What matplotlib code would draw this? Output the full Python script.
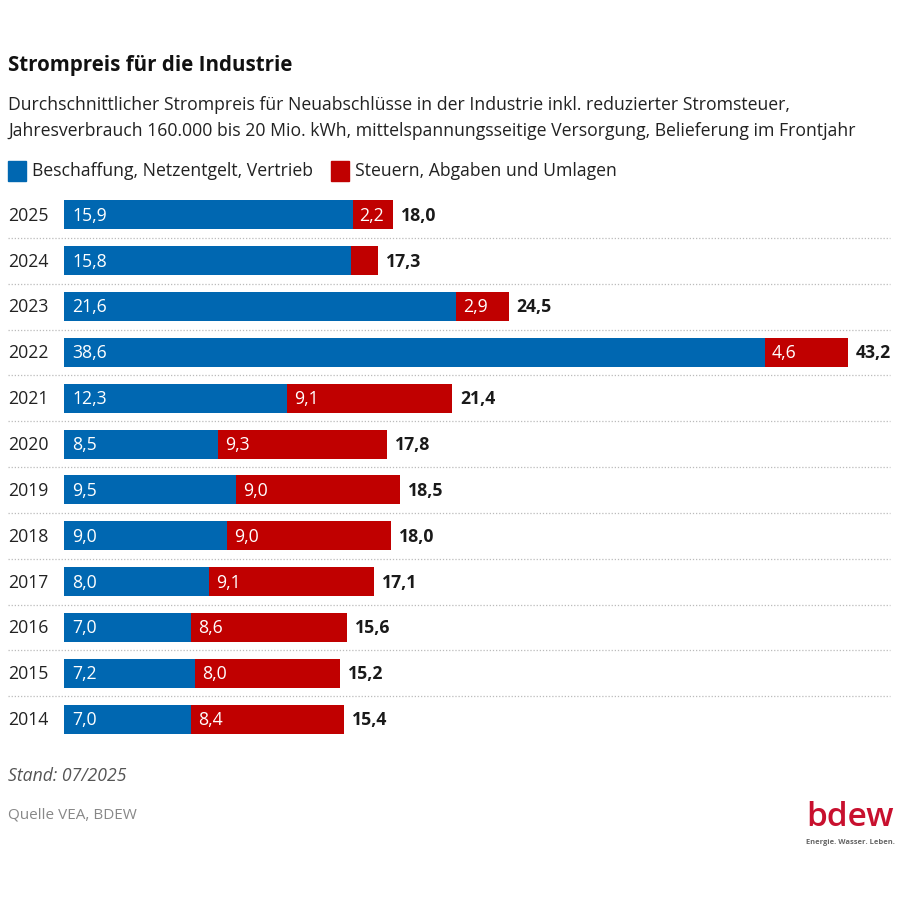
import matplotlib.pyplot as plt
from matplotlib.patches import Rectangle

plt.rcParams['font.family'] = ['Open Sans', 'DejaVu Sans']

years = ["2025", "2024", "2023", "2022", "2021", "2020", "2019", "2018", "2017", "2016", "2015", "2014"]
beschaffung = [15.9, 15.8, 21.6, 38.6, 12.3, 8.5, 9.5, 9.0, 8.0, 7.0, 7.2, 7.0]
steuern = [2.2, 1.5, 2.9, 4.6, 9.1, 9.3, 9.0, 9.0, 9.1, 8.6, 8.0, 8.4]
gesamt = [18.0, 17.3, 24.5, 43.2, 21.4, 17.8, 18.5, 18.0, 17.1, 15.6, 15.2, 15.4]

BLUE = "#0067b1"
RED = "#c00000"
W, H = 900, 900


def fmt(v):
    return f"{v:.1f}".replace(".", ",")


fig = plt.figure(figsize=(9, 9), dpi=100)

# axes in pixel geometry: bars start at x=64, 2025 row centred at y=215, rows 45.8 px apart
px_per_unit = 18.15
ax_left, ax_right = 64, 890
ax_top, ax_bottom = 192, 742
ax = fig.add_axes([ax_left / W, 1 - ax_bottom / H, (ax_right - ax_left) / W, (ax_bottom - ax_top) / H])
ax.set_xlim(0, (ax_right - ax_left) / px_per_unit)
ax.set_ylim(len(years) - 0.5, -0.5)
ax.axis("off")

ypos = list(range(len(years)))
ax.barh(ypos, beschaffung, height=0.63, color=BLUE)
ax.barh(ypos, steuern, left=beschaffung, height=0.63, color=RED)

off = 8 / px_per_unit
for i, (b, s, t) in enumerate(zip(beschaffung, steuern, gesamt)):
    ax.text(off, i + 0.02, fmt(b), color="white", fontsize=12.7, va="center", ha="left")
    if s >= 2:
        ax.text(b + 7 / px_per_unit, i + 0.02, fmt(s), color="white", fontsize=12.7,
                va="center", ha="left")
    ax.text(b + s + off, i + 0.02, fmt(t), color="#1a1a1a", fontsize=12.7, fontweight="bold",
            va="center", ha="left")
    ax.text(-56 / px_per_unit, i + 0.02, years[i], color="#222222", fontsize=12.7,
            va="center", ha="left")

# dotted separators between rows
for i in range(len(years) - 1):
    ax.plot([-56 / px_per_unit, (ax_right - ax_left) / px_per_unit], [i + 0.5, i + 0.5],
            color="#bbbbbb", lw=0.9, ls=(0, (1, 1.5)), clip_on=False)

# header
fig.text(8 / W, 1 - 65 / H, "Strompreis für die Industrie", fontsize=14.8, fontweight="bold",
         color="#111111", va="center")
fig.text(8 / W, 1 - 105 / H,
         "Durchschnittlicher Strompreis für Neuabschlüsse in der Industrie inkl. reduzierter Stromsteuer,",
         fontsize=12.7, color="#222222", va="center")
fig.text(8 / W, 1 - 131 / H,
         "Jahresverbrauch 160.000 bis 20 Mio. kWh, mittelspannungsseitige Versorgung, Belieferung im Frontjahr",
         fontsize=12.7, color="#222222", va="center")

# legend
fig.patches.append(Rectangle((8 / W, 1 - 181 / H), 18 / W, 20 / H, transform=fig.transFigure,
                             color=BLUE))
fig.text(32 / W, 1 - 171 / H, "Beschaffung, Netzentgelt, Vertrieb", fontsize=12.7,
         color="#222222", va="center")
fig.patches.append(Rectangle((331 / W, 1 - 181 / H), 18 / W, 20 / H, transform=fig.transFigure,
                             color=RED))
fig.text(355 / W, 1 - 171 / H, "Steuern, Abgaben und Umlagen", fontsize=12.7,
         color="#222222", va="center")

# footer
fig.text(8 / W, 1 - 776 / H, "Stand: 07/2025", fontsize=12.7, style="italic",
         color="#555555", va="center")
fig.text(8 / W, 1 - 815 / H, "Quelle VEA, BDEW", fontsize=11, color="#888888", va="center")

# logo
fig.text(850 / W, 1 - 817 / H, "bdew", fontsize=24, fontweight="semibold", color="#c8102e",
         ha="center", va="center")
fig.text(850 / W, 1 - 843 / H, "Energie. Wasser. Leben.", fontsize=5.4, fontweight="bold",
         color="#666666", ha="center", va="center")

fig.savefig("out.png", dpi=100, facecolor="white")
plt.close()
